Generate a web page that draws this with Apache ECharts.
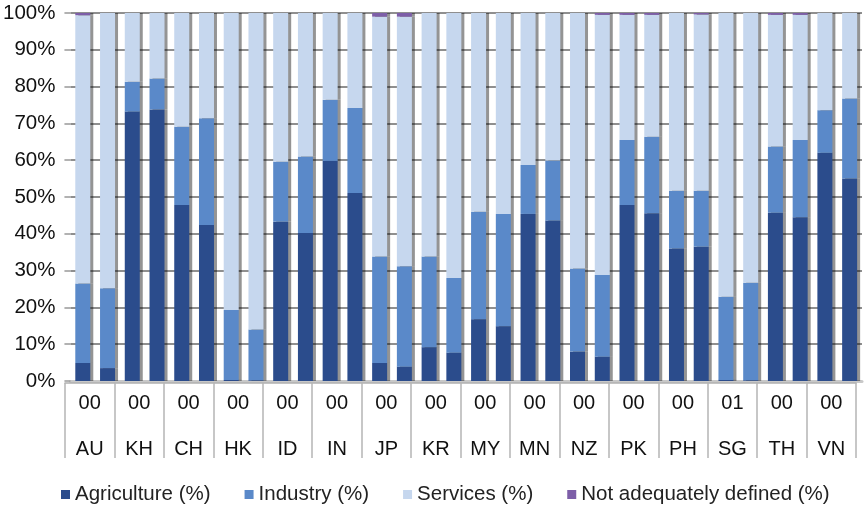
<!DOCTYPE html>
<html>
<head>
<meta charset="utf-8">
<script src="https://cdn.jsdelivr.net/npm/echarts@6/dist/echarts.min.js"></script>
<style>html,body{margin:0;padding:0;background:#fff}#c{width:864px;height:505px}</style>
</head>
<body>
<div id="c"></div>
<script>
const countries = ["AU","KH","CH","HK","ID","IN","JP","KR","MY","MN","NZ","PK","PH","SG","TH","VN"];
const yearLabels = ["00","00","00","00","00","00","00","00","00","00","00","00","00","01","00","00"];
const yTicks = [0,10,20,30,40,50,60,70,80,90,100];

// first bar of each country
const agri1 = [4.9,73.2,47.8,0.3,43.3,59.8,4.9,9.2,16.8,45.4,8.0,47.8,36.0,0.3,45.7,62.0];
const ind1  = [21.6,8.1,21.3,19.0,16.3,16.6,28.9,24.6,29.2,13.3,22.6,17.7,15.7,22.6,18.0,11.6];
const serv1 = [72.9,18.7,30.9,80.7,40.4,23.6,65.2,66.2,54.0,41.3,69.4,34.0,48.3,77.1,35.8,26.4];
const nad1  = [0.6,0,0,0,0,0,1.0,0,0,0,0,0.5,0,0,0.5,0];
// second bar of each country
const agri2 = [3.5,73.8,42.4,0.2,40.2,51.1,3.9,7.7,14.9,43.6,6.6,45.6,36.5,0.2,44.5,55.0];
const ind2  = [21.7,8.4,29.0,13.8,20.8,23.1,27.3,20.3,30.5,16.3,22.2,20.8,15.2,26.5,21.0,21.8];
const serv2 = [74.8,17.8,28.6,86.0,39.0,25.8,67.8,72.0,54.6,40.1,70.7,33.1,47.9,73.3,34.0,23.2];
const nad2  = [0,0,0,0,0,0,1.0,0,0,0,0.5,0.5,0.4,0,0.5,0];

const names = ["Agriculture (%)","Industry (%)","Services (%)","Not adequately defined (%)"];
const colors = ["#2b4c8c","#5a89c9","#c6d7ee","#7d5ea8"];
const FONT = "Liberation Sans";

function mk(name, color, data, stack){
  return {
    name, type:'bar', stack, data, xAxisIndex:0, yAxisIndex:0,
    barWidth:15, barGap:'65%',
    itemStyle:{color, shadowColor:'rgba(0,0,0,0.42)', shadowOffsetX:3, shadowOffsetY:0, shadowBlur:0},
    emphasis:{disabled:true}
  };
}
const s1 = [agri1,ind1,serv1,nad1], s2=[agri2,ind2,serv2,nad2];
const series = [];
s1.forEach((d,i)=>series.push(mk(names[i],colors[i],d,'a')));
s2.forEach((d,i)=>series.push(mk(names[i],colors[i],d,'b')));

const chart = echarts.init(document.getElementById('c'), null, {renderer:'canvas'});
chart.setOption({
  animation:false,
  backgroundColor:'#fff',
  textStyle:{fontFamily:FONT},
  legend:{
    data:names, top:479, left:56, itemWidth:9, itemHeight:9, itemGap:34, icon:'rect',
    textStyle:{fontFamily:FONT, fontSize:20.5, color:'#222'}
  },
  grid:[
    {left:70, right:2, top:13, bottom:124},
    {left:65, right:8, top:13, bottom:122}
  ],
  xAxis:[
    {type:'category', gridIndex:0, data:countries,
     axisLine:{show:true, lineStyle:{color:'#c8c8c8', width:3}},
     axisTick:{show:false}, axisLabel:{show:false}},
    {type:'category', gridIndex:1, data:countries,
     axisLine:{show:true, lineStyle:{color:'#b0b0b0', width:1.5}},
     axisTick:{show:true, interval:0, length:75, lineStyle:{color:'#b5b5b5', width:1.5}},
     axisLabel:{interval:0, margin:9, fontSize:20, color:'#111', fontFamily:FONT, lineHeight:23,
       formatter:(v,i)=>yearLabels[i]+'\n\n'+v}}
  ],
  yAxis:[
    {type:'value', gridIndex:0, min:0, max:100, interval:10,
     axisLine:{show:false}, axisTick:{show:true, length:6, lineStyle:{color:'#999', width:1.5}},
     axisLabel:{fontSize:20.5, color:'#111', margin:15, fontFamily:FONT, formatter:v=>v+'%'},
     splitLine:{show:true, lineStyle:{color:'#8f8f8f', width:2}}},
    {type:'value', gridIndex:1, min:0, max:100, show:false, splitLine:{show:false}}
  ],
  series
});
</script>
</body>
</html>
